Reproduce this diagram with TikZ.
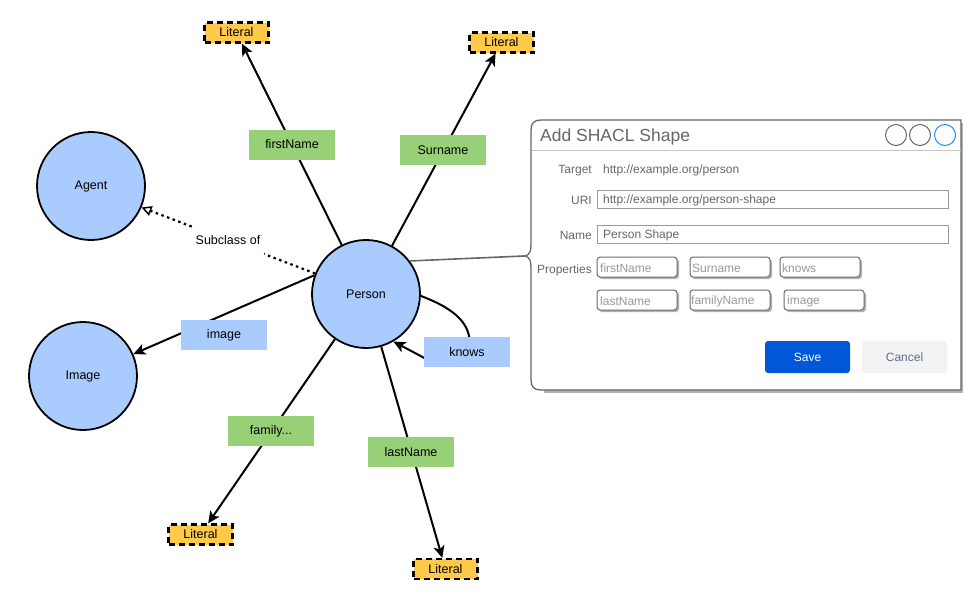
\documentclass[tikz,border=0pt]{standalone}
\usepackage{fontspec}
\setmainfont{Liberation Sans}
\usetikzlibrary{arrows.meta}
\definecolor{nodeblue}{HTML}{A9CBFD}
\definecolor{labgreen}{HTML}{97D077}
\definecolor{litfill}{HTML}{FFC94A}
\definecolor{panelgrey}{HTML}{666666}
\definecolor{fieldgrey}{HTML}{999999}
\definecolor{sepgrey}{HTML}{C4C4C4}
\definecolor{saveblue}{HTML}{0057D8}
\definecolor{cancelbg}{HTML}{F1F2F4}
\definecolor{canceltxt}{HTML}{5E6C84}
\definecolor{winblue}{HTML}{1A8CFF}
\tikzset{
  cls/.style={circle, draw=black, line width=1.8pt, fill=nodeblue, minimum size=108pt, inner sep=0pt, font=\fontsize{12.5}{14}\selectfont},
  lit/.style={draw=black, line width=2.2pt, dash pattern=on 6pt off 4pt, fill=litfill, minimum width=64pt, minimum height=20pt, inner sep=0pt, font=\fontsize{12.5}{14}\selectfont},
  glab/.style={fill=labgreen, minimum width=86pt, minimum height=30pt, inner sep=0pt, font=\fontsize{12.5}{14}\selectfont},
  blab/.style={fill=nodeblue, minimum width=86pt, minimum height=30pt, inner sep=0pt, font=\fontsize{12.5}{14}\selectfont},
  edge/.style={line width=2pt, -{Stealth[length=12pt,width=11pt,inset=3pt]}},
  subedge/.style={line width=2.2pt, dash pattern=on 2.5pt off 3.5pt, -{Triangle[open,length=10pt,width=10pt,line width=1.5pt]}},
  ptxt/.style={text=panelgrey, font=\fontsize{12}{14}\selectfont, inner sep=0pt},
  field/.style={draw=fieldgrey, line width=1pt, fill=white, minimum height=18pt, inner sep=0pt},
  propbox/.style={draw=fieldgrey!70!black, line width=1pt, fill=white, rounded corners=3pt, minimum width=80pt, minimum height=20pt, inner sep=0pt},
  propshadow/.style={fill=black!30, rounded corners=3pt, minimum width=80pt, minimum height=20pt, inner sep=0pt},
  phtxt/.style={text=fieldgrey, font=\fontsize{12}{14}\selectfont, inner sep=0pt, anchor=west},
  wincirc/.style={circle, draw=panelgrey, line width=1pt, minimum size=21pt, inner sep=0pt}
}
\begin{document}
\begin{tikzpicture}[x=1pt,y=-1pt]
\useasboundingbox (0,0) rectangle (963,595);

% ---- graph nodes ----
\node[cls] (person) at (366,294) {Person};
\node[cls] (agent) at (91,186) {Agent};
\node[cls] (image) at (83,376) {Image};
\node[lit] (lit1) at (236.5,32.5) {Literal};
\node[lit] (lit2) at (501.5,42.5) {Literal};
\node[lit] (lit3) at (200.5,534.5) {Literal};
\node[lit] (lit4) at (445.5,569) {Literal};

% ---- edges ----
\draw[edge] (person) -- (lit1);
\draw[edge] (person) -- (lit2);
\draw[edge] (person.160) -- (image);
\draw[edge] (person) -- (lit3);
\draw[edge] (person) -- (lit4);
\draw[subedge] (person.158) -- (agent.-23);
\draw[edge] (person.-2) .. controls (458,310) and (470,325) .. (470,345) -- (430,361) -- (person.-60);

% ---- edge labels ----
\node[glab] (lfirst) at (292,144.5) {firstName};
\node[glab] (lsur) at (443,150) {Surname};
\node[blab] (limage) at (224,335) {image};
\node[glab] (lfam) at (271,431) {family...};
\node[glab] (llast) at (411,452) {lastName};
\node[blab] (lknows) at (467,352) {knows};
\node[fill=white, inner sep=0pt, minimum width=72pt, minimum height=29pt, font=\fontsize{12.5}{14}\selectfont] (lsub) at (228,240.5) {Subclass of};

% ---- panel ----
\coordinate (bracetip) at (524,256);
\draw[panelgrey, line width=1.6pt] (person.37) -- (bracetip);
\fill[black!30] (544,123) -- (963,123) -- (963,393) -- (544,393) -- cycle;
\draw[panelgrey, line width=1.3pt, fill=white]
  (541,120) -- (961,120) -- (961,390) -- (541,390)
  .. controls (534,390) and (531,387) .. (531,380) -- (531,266)
  .. controls (531,259) and (528,256) .. (bracetip)
  .. controls (528,256) and (531,253) .. (531,246) -- (531,130)
  .. controls (531,123) and (534,120) .. (541,120) -- cycle;
\draw[sepgrey, line width=1pt] (532,150.5) -- (960.5,150.5);
\node[anchor=west, text=panelgrey, font=\fontsize{17.5}{20}\selectfont, inner sep=0pt] (title) at (540,136.5) {Add SHACL Shape};
\node[wincirc] (wc1) at (896,135) {};
\node[wincirc] (wc2) at (920,135) {};
\node[wincirc, draw=winblue] (wc3) at (945,135) {};

\node[ptxt, anchor=east] (ttarget) at (592,170.5) {Target};
\node[ptxt, anchor=west] (vtarget) at (603,170.5) {http://example.org/person};
\node[ptxt, anchor=east] (turi) at (592,200) {URI};
\node[field, minimum width=351pt, anchor=west] (furi) at (597,199) {};
\node[ptxt, anchor=west] (vuri) at (603,200) {http://example.org/person-shape};
\node[ptxt, anchor=east] (tname) at (592,235) {Name};
\node[field, minimum width=351pt, anchor=west] (fname) at (597,234) {};
\node[ptxt, anchor=west] (vname) at (603,235) {Person Shape};
\node[ptxt, anchor=east] (tprops) at (592,270) {Properties};

\node[propshadow] (s1) at (639,269) {};
\node[propshadow] (s2) at (732,269) {};
\node[propshadow] (s3) at (822,269) {};
\node[propshadow] (s4) at (639,302) {};
\node[propshadow] (s5) at (732,302) {};
\node[propshadow] (s6) at (826,302) {};
\node[propbox] (p1) at (637,267) {};
\node[propbox] (p2) at (730,267) {};
\node[propbox] (p3) at (820,267) {};
\node[propbox] (p4) at (637,300) {};
\node[propbox] (p5) at (730,300) {};
\node[propbox] (p6) at (824,300) {};
\node[phtxt] (t1) at (600,268) {firstName};
\node[phtxt] (t2) at (692,268) {Surname};
\node[phtxt] (t3) at (782,268) {knows};
\node[phtxt] (t4) at (600,301) {lastName};
\node[phtxt] (t5) at (691,301) {familyName};
\node[phtxt] (t6) at (787,301) {image};

\node[fill=saveblue, rounded corners=3pt, minimum width=85pt, minimum height=32pt, inner sep=0pt, text=white, font=\fontsize{12}{14}\selectfont] (save) at (807.5,357) {Save};
\node[fill=cancelbg, rounded corners=3pt, minimum width=85pt, minimum height=32pt, inner sep=0pt, text=canceltxt, font=\fontsize{12}{14}\selectfont] (cancel) at (904.5,357) {Cancel};
\end{tikzpicture}
\end{document}
